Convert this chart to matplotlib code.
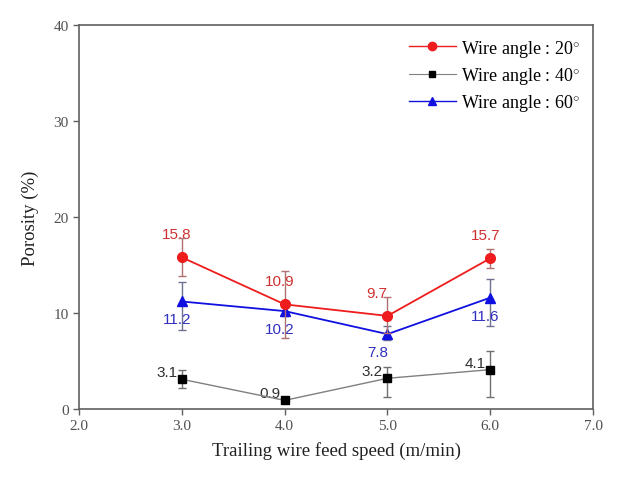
import numpy as np
import matplotlib
matplotlib.use("Agg")
import matplotlib.pyplot as plt
from matplotlib.lines import Line2D

# data
speed = [3.0, 4.0, 5.0, 6.0]

por_20 = [15.8, 10.9, 9.7, 15.7]
err_20_lo = [1.9, 3.5, 1.8, 1.0]
err_20_hi = [2.0, 3.5, 2.0, 1.0]

por_40 = [3.1, 0.9, 3.2, 4.1]
err_40_lo = [0.9, 0.2, 2.0, 2.9]
err_40_hi = [1.0, 0.2, 1.2, 1.9]

por_60 = [11.2, 10.2, 7.8, 11.6]
err_60_lo = [3.0, 0.5, 0.6, 3.0]
err_60_hi = [2.0, 0.5, 0.8, 1.9]

labels = ['Wire angle : 20$^{\\circ}$', 'Wire angle : 40$^{\\circ}$', 'Wire angle : 60$^{\\circ}$']

plt.rcParams['mathtext.fontset'] = 'custom'
plt.rcParams['mathtext.rm'] = 'Liberation Serif'

fig = plt.figure(figsize=(6.29, 4.85), dpi=100)
ax = fig.add_axes([0.1256, 0.1546, 0.8174, 0.7918])

axcol = '#606060'
c20, c40, c60 = '#ee1c1c', '#808080', '#1010e0'

# red, 20 deg
ax.errorbar(speed, por_20, yerr=[err_20_lo, err_20_hi], color=c20, lw=1.3,
            marker='o', ms=7, ecolor='#b07070', elinewidth=1, capsize=3, capthick=1,
            zorder=4)
# black, 40 deg
ax.errorbar(speed, por_40, yerr=[err_40_lo, err_40_hi], color=c40, lw=1,
            marker='s', ms=6, mfc='black', mec='black', ecolor='#707070',
            elinewidth=1, capsize=3, capthick=1, zorder=3)
# blue, 60 deg
ax.errorbar(speed, por_60, yerr=[err_60_lo, err_60_hi], color=c60, lw=1.3,
            marker='^', ms=7, ecolor='#707090', elinewidth=1, capsize=3, capthick=1,
            zorder=3)

# value labels
txt_font = dict(family='Liberation Sans', fontsize=11, ha='center', va='center')
for x, y in zip(speed, por_20):
    dx = -11 if y < 10 else -5
    ax.annotate(f'{y:.1f}', (x, y), xytext=(dx, 23), textcoords='offset pixels',
                color='#d03030', **txt_font)
for x, y in zip(speed, por_60):
    dx = -10 if y < 10 else -5
    ax.annotate(f'{y:.1f}', (x, y), xytext=(dx, -18), textcoords='offset pixels',
                color='#3030c0', **txt_font)
for x, y in zip(speed, por_40):
    ax.annotate(f'{y:.1f}', (x, y), xytext=(-15, 7), textcoords='offset pixels',
                color='#303030', **txt_font)

ax.set_xlim(2.0, 7.0)
ax.set_ylim(0, 40)
ax.set_xticks(np.arange(2.0, 7.01, 1.0))
ax.set_xticklabels([f'{v:.1f}' for v in np.arange(2.0, 7.01, 1.0)])
ax.set_yticks([0, 10, 20, 30, 40])

for s in ax.spines.values():
    s.set_color(axcol)
    s.set_linewidth(1.2)
ax.tick_params(direction='out', color=axcol, labelcolor='#505050', length=4, width=1,
               labelsize=11, top=False, right=False)
for lab in ax.get_xticklabels() + ax.get_yticklabels():
    lab.set_family('Liberation Serif')

ax.set_xlabel('Trailing wire feed speed (m/min)', family='Liberation Serif',
              fontsize=13.5, color='#202020', labelpad=6)
ax.set_ylabel('Porosity (%)', family='Liberation Serif', fontsize=13.5,
              color='#202020', labelpad=10)

# legend without error bars
handles = [
    Line2D([], [], color=c20, lw=1, marker='o', ms=6),
    Line2D([], [], color=c40, lw=0.8, marker='s', ms=4.5, mfc='black', mec='black'),
    Line2D([], [], color=c60, lw=1, marker='^', ms=5.5),
]
ax.legend(handles, labels, loc='upper right', frameon=False,
          prop={'family': 'Liberation Serif', 'size': 13},
          handlelength=2.6, handletextpad=0.3, labelspacing=0.35,
          borderaxespad=0.3)

fig.savefig('out.png', dpi=100)
